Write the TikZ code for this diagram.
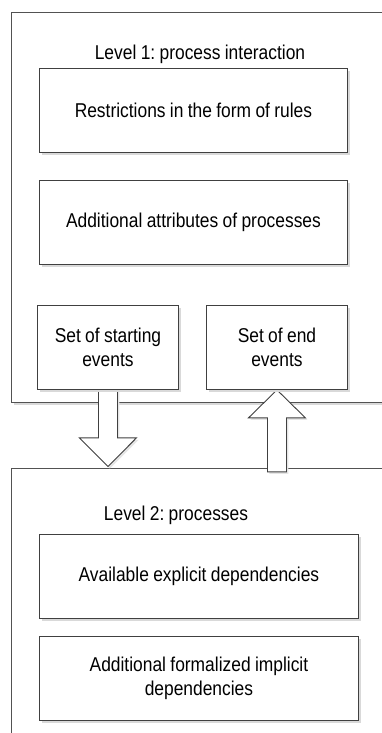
\documentclass[tikz,border=0pt]{standalone}
\usepackage{fontspec}
\setmainfont{Liberation Sans}[FakeStretch=0.87,WordSpace=0.9]
\frenchspacing
\usetikzlibrary{calc,shadows}
\pgfdeclarelayer{back}
\pgfdeclarelayer{arrows}
\pgfsetlayers{back,arrows,main}
\begin{document}
\begin{tikzpicture}[x=1pt,y=-1pt,
  every node/.style={font=\fontsize{20}{24}\selectfont, text=black},
  softshadow/.style={drop shadow={shadow xshift=2.5pt,shadow yshift=-2.5pt,fill=black!15,opacity=1}},
  frame/.style={draw=black!68, line width=0.9pt, fill=white, rectangle, inner sep=0pt,
    anchor=north west, softshadow},
  box/.style={draw=black!75, line width=0.9pt, fill=white, rectangle, inner sep=0pt,
    anchor=north west, align=center, minimum height=84pt, softshadow},
  hollowarrow/.style={draw=black!75, line width=0.9pt, fill=white, line join=miter,
    drop shadow={shadow xshift=2pt,shadow yshift=-2pt,fill=black!10,opacity=1}}]
\useasboundingbox (0,0) rectangle (382,733);
\clip (0,0) rectangle (382,733);

% two level frames, running off the right (and bottom) edge
\begin{pgfonlayer}{back}
\fill[white] (0,0) rectangle (382,733);
\node[frame, minimum width=420pt, minimum height=390pt] (frame1) at (11,12) {};
\node[frame, minimum width=420pt, minimum height=320pt] (frame2) at (11,468) {};
\end{pgfonlayer}

% level 1 content
\node[anchor=base] (title1) at (200,60) {Level 1: process interaction};
\node[box, minimum width=308pt] (rules) at (39,68) {Restrictions in the form of rules};
\node[box, minimum width=308pt] (attrs) at (39,180) {Additional attributes of processes};
\node[box, minimum width=141pt] (start) at (37,305) {Set of starting\\events};
\node[box, minimum width=141pt] (finish) at (206,305) {Set of end\\events};

% hollow block arrows between the levels
\begin{pgfonlayer}{arrows}
\coordinate (tipdown) at ($(start.south |- frame2.north)+(0,-1.5)$);
\draw[hollowarrow]
  ($(start.south)+(-9.5,0)$) -- ++(0,48) -- ++(-19,0) -- (tipdown)
  -- ($(start.south)+(28.5,48)$) -- ++(-19,0) -- ($(start.south)+(9.5,0)$);
\draw[hollowarrow]
  (finish.south) -- ++(-28.5,28) -- ++(19,0) -- ++(0,54) -- ++(19,0)
  -- ++(0,-54) -- ++(19,0) -- cycle;
\end{pgfonlayer}

% level 2 content
\node[anchor=base] (title2) at (176,520) {Level 2: processes};
\node[box, minimum width=319pt] (explicit) at (39,534) {Available explicit dependencies};
\node[box, minimum width=319pt] (implicit) at (39,636) {Additional formalized implicit\\dependencies};
\end{tikzpicture}
\end{document}
